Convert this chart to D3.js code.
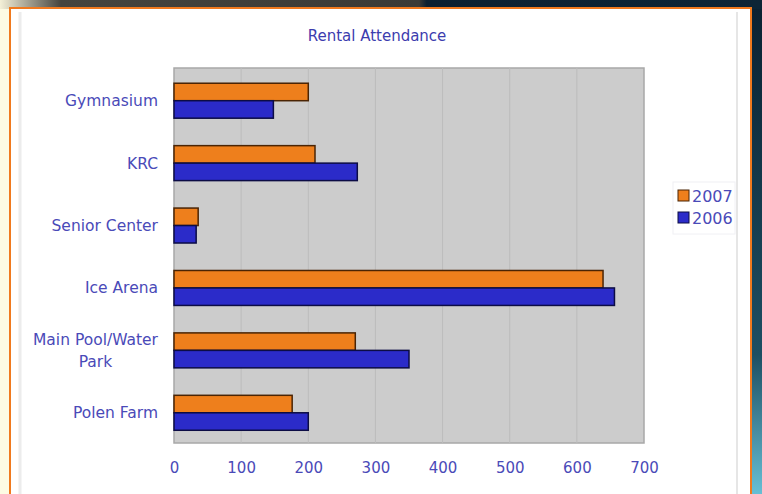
<!DOCTYPE html>
<html>
<head>
<meta charset="utf-8">
<script src="https://cdn.jsdelivr.net/npm/d3@7"></script>
<style>
  html, body { margin: 0; padding: 0; background: #0d2233; }
  svg { display: block; }
  text { font-family: "DejaVu Sans", Verdana, sans-serif; }
</style>
</head>
<body>
<div class="canvas"></div>
<script>
// data
const categories = ['Gymnasium', 'KRC', 'Senior Center', 'Ice Arena', 'Main Pool/Water Park', 'Polen Farm']
const series = ['2007', '2006']
const values2007 = [200, 210, 36, 639, 270, 176]
const values2006 = [148, 273, 33, 656, 350, 200]
const xTicks = [0, 100, 200, 300, 400, 500, 600, 700]

const W = 762, H = 494
const svg = d3.select('.canvas')
  .append('svg')
    .attr('width', W)
    .attr('height', H)

// background bits around the framed panel
const defs = svg.append('defs')
const rg = defs.append('linearGradient').attr('id', 'rightEdge')
  .attr('x1', 0).attr('y1', 0).attr('x2', 0).attr('y2', 1)
rg.append('stop').attr('offset', '0%').attr('stop-color', '#0b2232')
rg.append('stop').attr('offset', '70%').attr('stop-color', '#1d4f63')
rg.append('stop').attr('offset', '100%').attr('stop-color', '#6cc6dc')

const tg = defs.append('linearGradient').attr('id', 'topEdge')
  .attr('x1', 0).attr('y1', 0).attr('x2', 1).attr('y2', 0)
tg.append('stop').attr('offset', '0%').attr('stop-color', '#f4f0d8')
tg.append('stop').attr('offset', '8%').attr('stop-color', '#45443e')
tg.append('stop').attr('offset', '55%').attr('stop-color', '#3a3a36')
tg.append('stop').attr('offset', '56%').attr('stop-color', '#0c2030')
tg.append('stop').attr('offset', '100%').attr('stop-color', '#0d2536')

svg.append('rect').attr('width', W).attr('height', H).attr('fill', '#0d2233')
svg.append('rect').attr('width', W).attr('height', 9).attr('fill', 'url(#topEdge)')
svg.append('rect').attr('x', 0).attr('y', 9).attr('width', 10).attr('height', H).attr('fill', '#fdfbe3')
svg.append('rect').attr('x', 752).attr('y', 9).attr('width', 10).attr('height', H).attr('fill', 'url(#rightEdge)')

// framed white panel
svg.append('rect')
  .attr('x', 10).attr('y', 8)
  .attr('width', 741).attr('height', 500)
  .attr('fill', '#ffffff')
  .attr('stroke', '#f07a1e')
  .attr('stroke-width', 2)

svg.append('line').attr('x1', 20).attr('x2', 20).attr('y1', 12).attr('y2', H)
  .attr('stroke', '#ececec').attr('stroke-width', 3)
svg.append('line').attr('x1', 737).attr('x2', 737).attr('y1', 12).attr('y2', H)
  .attr('stroke', '#e6e6e6').attr('stroke-width', 2)

// plot area
const plot = {left: 174, right: 644, top: 68, bottom: 443}
const textBlue = '#4a4ab8'

const x = d3.scaleLinear()
  .domain([0, 700])
  .range([plot.left, plot.right])

const y = d3.scaleBand()
  .domain(categories)
  .range([plot.top + 1.5, plot.bottom + 1])
  .paddingInner(0.44)
  .paddingOuter(0.22)

const ySub = d3.scaleBand()
  .domain(series)
  .range([0, y.bandwidth()])

const colour = d3.scaleOrdinal()
  .domain(series)
  .range(['#ee7f1c', '#2b2bc9'])
const edge = d3.scaleOrdinal()
  .domain(series)
  .range(['#4a2404', '#0c0c45'])

svg.append('rect')
  .attr('x', plot.left).attr('y', plot.top)
  .attr('width', plot.right - plot.left).attr('height', plot.bottom - plot.top)
  .attr('fill', '#cccccc')
  .attr('stroke', '#a8a8a8')
  .attr('stroke-width', 1.5)

// grid
svg.append('g').selectAll('line')
  .data(xTicks.slice(1, -1))
  .enter().append('line')
    .attr('x1', d => x(d)).attr('x2', d => x(d))
    .attr('y1', plot.top).attr('y2', plot.bottom)
    .attr('stroke', '#bcbcbc')
    .attr('stroke-width', 1)

// bars
const rows = categories.map((c, i) => ({cat: c, vals: [
  {s: '2007', v: values2007[i]},
  {s: '2006', v: values2006[i]}
]}))

const groups = svg.append('g').selectAll('g')
  .data(rows)
  .enter().append('g')
    .attr('transform', d => `translate(0, ${y(d.cat)})`)

groups.selectAll('rect')
  .data(d => d.vals)
  .enter().append('rect')
    .attr('x', x(0))
    .attr('y', d => ySub(d.s))
    .attr('width', d => x(d.v) - x(0))
    .attr('height', ySub.bandwidth())
    .attr('fill', d => colour(d.s))
    .attr('stroke', d => edge(d.s))
    .attr('stroke-width', 1.5)

// x axis
const xAxis = d3.axisBottom(x)
  .tickValues(xTicks)
  .tickSize(0)
  .tickPadding(19)
  .tickFormat(d => d)

const xAxisGroup = svg.append('g')
  .attr('transform', `translate(0, ${plot.bottom})`)
  .call(xAxis)
xAxisGroup.select('.domain').remove()
xAxisGroup.selectAll('text')
  .attr('fill', textBlue)
  .attr('font-size', 15)
  .style('font-family', '"DejaVu Sans", sans-serif')

// category labels
const labelLines = {'Main Pool/Water Park': ['Main Pool/Water', 'Park']}
const labels = svg.append('g')
categories.forEach(c => {
  const lines = labelLines[c] || [c]
  const cy = y(c) + y.bandwidth() / 2
  const lh = 22
  const t0 = cy - (lines.length - 1) * lh / 2
  const first = labels.append('text')
    .attr('x', 158)
    .attr('y', t0)
    .attr('dy', '0.35em')
    .attr('text-anchor', 'end')
    .attr('fill', textBlue)
    .attr('font-size', 15.5)
    .text(lines[0])
  if (lines.length > 1) {
    const w = first.node().getComputedTextLength()
    labels.append('text')
      .attr('x', 158 - w / 2)
      .attr('y', t0 + lh)
      .attr('dy', '0.35em')
      .attr('text-anchor', 'middle')
      .attr('fill', textBlue)
      .attr('font-size', 15.5)
      .text(lines[1])
  }
})

// title
svg.append('text')
  .attr('x', 377)
  .attr('y', 36)
  .attr('dy', '0.35em')
  .attr('text-anchor', 'middle')
  .attr('fill', '#3c3cae')
  .attr('font-size', 15)
  .text('Rental Attendance')

// legend
const legend = svg.append('g')
  .attr('transform', 'translate(678, 186)')
legend.append('rect')
  .attr('x', -5).attr('y', -4)
  .attr('width', 62).attr('height', 52)
  .attr('fill', '#ffffff')
  .attr('stroke', '#f0f0f4')
const items = legend.selectAll('g')
  .data(series)
  .enter().append('g')
    .attr('transform', (d, i) => `translate(0, ${i * 22})`)
items.append('rect')
  .attr('x', 0).attr('y', 4)
  .attr('width', 11).attr('height', 11)
  .attr('fill', d => colour(d))
  .attr('stroke', d => edge(d))
items.append('text')
  .attr('x', 14).attr('y', 10)
  .attr('dy', '0.35em')
  .attr('fill', textBlue)
  .attr('font-size', 16)
  .text(d => d)
</script>
</body>
</html>
